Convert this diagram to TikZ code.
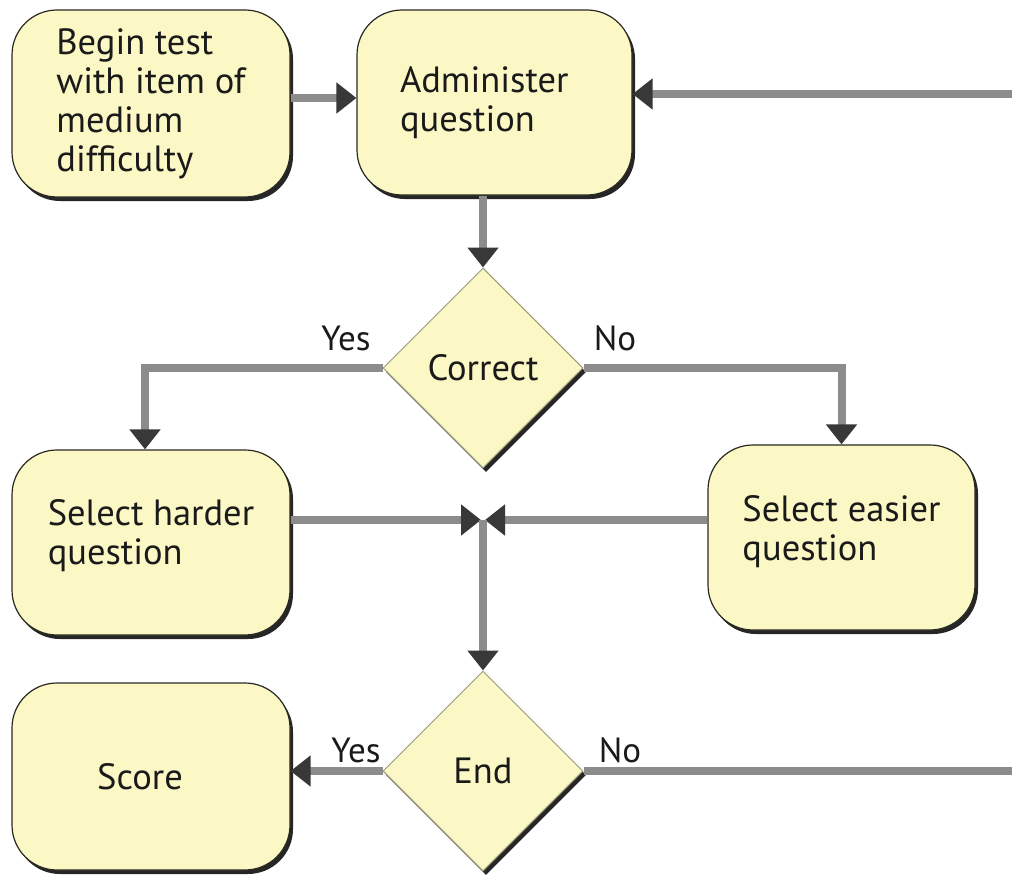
\documentclass[tikz,border=0pt]{standalone}
\usepackage{fontspec}
\setmainfont{PT Sans}
\usetikzlibrary{shapes.geometric,arrows.meta,shadows}
\definecolor{boxfill}{HTML}{FBF8C6}
\definecolor{bordc}{HTML}{2A2A22}
\definecolor{diamc}{HTML}{9A9A7A}
\definecolor{linec}{HTML}{8C8C8C}
\definecolor{headc}{HTML}{383838}
\definecolor{txtc}{HTML}{1A1A1A}
\tikzset{
  flowbox/.style={rectangle, rounded corners=45pt, draw=bordc, line width=1.2pt, fill=boxfill,
    drop shadow={shadow xshift=3pt, shadow yshift=-4pt, fill=black!85, opacity=1},
    font=\fontsize{36.5}{39}\selectfont, text=txtc, align=left, inner sep=0pt},
  decide/.style={diamond, aspect=1, draw=diamc, line width=1pt, fill=boxfill,
    drop shadow={shadow xshift=3pt, shadow yshift=-4pt, fill=black!85, opacity=1},
    minimum width=200pt, minimum height=200pt, inner sep=0pt,
    font=\fontsize{36.5}{39}\selectfont, text=txtc},
  conn/.style={draw=linec, line width=8pt, -{Triangle[length=20pt,width=30pt,color=headc]}},
  plain/.style={draw=linec, line width=8pt},
  lbl/.style={font=\fontsize{35}{38}\selectfont, text=txtc}
}
\begin{document}
\begin{tikzpicture}[x=1pt,y=-1pt]
\useasboundingbox (0,0) rectangle (1012,875);
\fill[white] (0,0) rectangle (1012,875);
\node[flowbox, minimum width=278pt, minimum height=187pt] (begin) at (151,103.5) {Begin test\\with item of\\medium\\difficulty};
\node[flowbox, minimum width=275pt, minimum height=185pt, text width=189pt] (admin) at (494.5,102.5) {Administer\\question\\[8pt]};
\node[decide] (correct) at (483,368) {Correct};
\node[flowbox, minimum width=278pt, minimum height=185pt] (harder) at (151,542.5) {Select harder\\question\\[-18pt]};
\node[flowbox, minimum width=267pt, minimum height=185pt] (easier) at (841.5,537.5) {Select easier\\question\\[-20pt]};
\node[decide] (end) at (483,771) {End};
\node[flowbox, minimum width=278pt, minimum height=187pt, align=center] (score) at (151,776.5) {\hspace*{-22pt}Score};
\coordinate (J) at (483,520);
\coordinate (RT) at (1016,94);
\coordinate (RB) at (1016,771);
% connectors
\draw[conn] (begin.east |- 0,98) -- (admin.west |- 0,98);
\draw[conn] (admin.south -| correct.north) -- (correct.north);
\draw[conn] (correct.west) -| ([xshift=-6pt]harder.north);
\draw[conn] (correct.east) -| (easier.north);
\draw[conn] (harder.east |- J) -- ([xshift=-2pt]J);
\draw[conn] (easier.west |- J) -- ([xshift=2pt]J);
\draw[conn] (J) -- (end.north);
\draw[conn] (end.west) -- (end.west -| score.east);
\draw[plain] (end.east) -- (RB);
\draw[conn] (RT) -- (RT -| admin.east);
% labels
\node[lbl] (y1) at (346,338) {Yes};
\node[lbl] (n1) at (615,338) {No};
\node[lbl] (y2) at (356,750) {Yes};
\node[lbl] (n2) at (620,750) {No};
\end{tikzpicture}
\end{document}
